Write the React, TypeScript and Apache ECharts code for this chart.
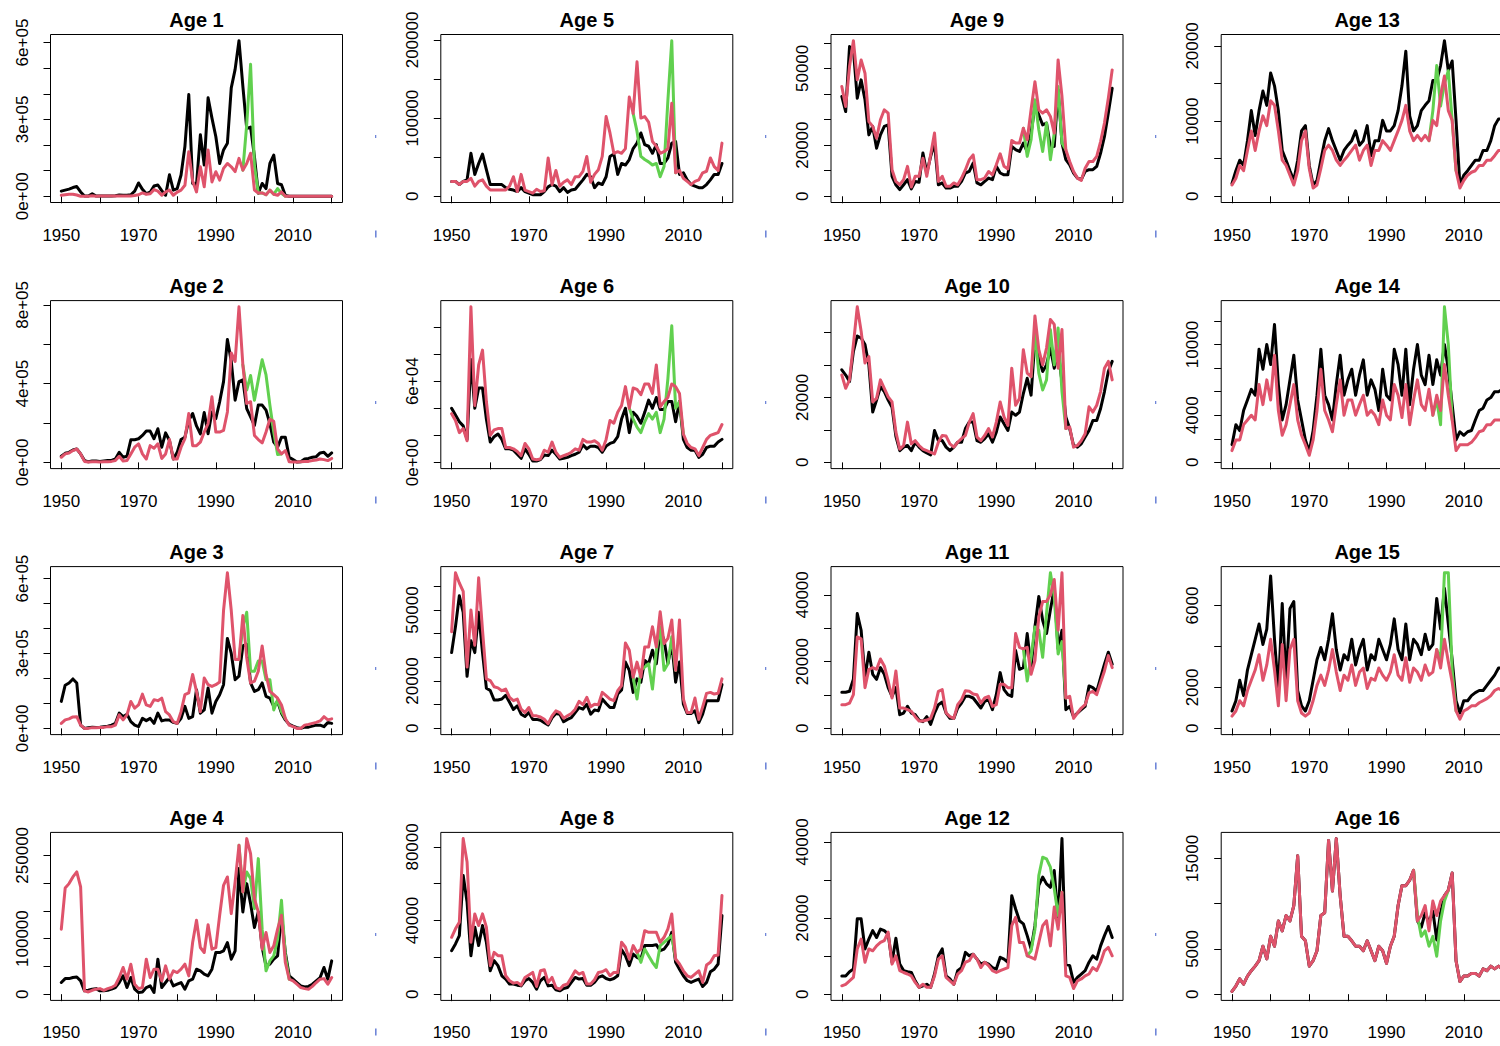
import React, { useEffect, useRef } from "react";
import * as echarts from "echarts";

// ---------- categories ----------
const FIRST_YEAR = 1950;
const LAST_YEAR = 2020;
const years: number[] = [];
for (let y = FIRST_YEAR; y <= LAST_YEAR; y++) years.push(y);
const xTickYears = [1950, 1960, 1970, 1980, 1990, 2000, 2010, 2020];
const xLabelYears = [1950, 1970, 1990, 2010];

// ---------- series values (1950..2020) ----------
const age1Black = [
  20000, 24000, 28000, 34000, 38000, 17000, 1000, 1000, 10000, 1000,
  1000, 1000, 1000, 1000, 2000, 5000, 4000, 4000, 6000, 20000,
  52000, 27000, 10000, 16000, 40000, 44000, 22000, 4000, 84000, 24000,
  30000, 83000, 194000, 397000, 50000, 45000, 240000, 122000, 384000, 305000,
  233000, 128000, 181000, 207000, 423000, 495000, 607000, 430000, 265000, 270000,
  155000, 12000, 50000, 30000, 128000, 161000, 50000, 45000, 3000, 0,
  0, 0, 0, 0, 0, 0, 0, 0, 0, 0,
  0,
];
const age1Red = [
  4000, 6000, 8000, 8000, 5000, 0, 0, 0, 2000, 0,
  1000, 1000, 1000, 1000, 1000, 1000, 1000, 1000, 1000, 3000,
  6000, 13000, 8000, 10000, 26000, 20000, 4000, 17000, 24000, 4000,
  16000, 24000, 43000, 174000, 60000, 17000, 115000, 37000, 181000, 56000,
  96000, 63000, 109000, 128000, 115000, 96000, 148000, 102000, 128000, 168000,
  24000, 13000, 13000, 6000, 24000, 8000, 4000, 17000, 0, 0,
  0, 0, 0, 0, 0, 0, 0, 0, 0, 0,
  0,
];
const age1Green = [[1997, 102000], [1998, 280000], [1999, 515000], [2000, 120000], [2001, 13000], [2002, 13000], [2003, 6000], [2004, 24000], [2005, 8000], [2006, 30000], [2007, 12000], [2008, 0]];

const age2Black = [
  31000, 46000, 51000, 63000, 68000, 43000, 9000, 3000, 7000, 7000,
  5000, 7000, 9000, 10000, 17000, 51000, 26000, 31000, 115000, 115000,
  120000, 137000, 159000, 159000, 120000, 171000, 77000, 150000, 111000, 17000,
  51000, 116000, 128000, 214000, 248000, 185000, 145000, 253000, 145000, 256000,
  222000, 308000, 410000, 624000, 513000, 316000, 410000, 419000, 273000, 231000,
  188000, 291000, 291000, 265000, 197000, 103000, 77000, 128000, 128000, 26000,
  14000, 2000, 3000, 17000, 20000, 26000, 29000, 48000, 51000, 31000,
  48000,
];
const age2Red = [
  26000, 43000, 48000, 60000, 68000, 43000, 5000, 2000, 3000, 3000,
  2000, 3000, 3000, 5000, 9000, 31000, 7000, 9000, 43000, 77000,
  94000, 43000, 17000, 85000, 72000, 94000, 20000, 43000, 116000, 17000,
  17000, 77000, 120000, 248000, 85000, 85000, 103000, 154000, 197000, 333000,
  154000, 154000, 162000, 256000, 556000, 513000, 790000, 496000, 299000, 308000,
  137000, 116000, 99000, 154000, 219000, 208000, 68000, 43000, 60000, 3000,
  2000, 2000, 3000, 4000, 5000, 9000, 12000, 17000, 14000, 9000,
  20000,
];
const age2Green = [[1997, 496000], [1998, 367000], [1999, 441000], [2000, 316000], [2001, 419000], [2002, 521000], [2003, 444000], [2004, 291000], [2005, 154000], [2006, 40000], [2007, 43000]];

const age3Black = [
  108000, 173000, 182000, 198000, 182000, 13000, 0, 3000, 5000, 4000,
  5000, 7000, 9000, 13000, 20000, 61000, 47000, 57000, 27000, 13000,
  7000, 40000, 31000, 40000, 20000, 61000, 30000, 34000, 34000, 24000,
  20000, 40000, 88000, 40000, 47000, 155000, 61000, 74000, 162000, 61000,
  108000, 135000, 175000, 360000, 300000, 195000, 209000, 330000, 337000, 182000,
  148000, 155000, 182000, 128000, 121000, 88000, 108000, 61000, 34000, 16000,
  9000, 3000, 0, 5000, 5000, 9000, 13000, 13000, 7000, 24000,
  20000,
];
const age3Red = [
  20000, 34000, 38000, 46000, 47000, 13000, 0, 0, 3000, 3000,
  4000, 4000, 7000, 7000, 13000, 54000, 34000, 54000, 108000, 81000,
  94000, 137000, 94000, 88000, 115000, 111000, 121000, 67000, 54000, 27000,
  20000, 67000, 135000, 142000, 216000, 148000, 67000, 202000, 175000, 168000,
  175000, 186000, 472000, 623000, 472000, 276000, 276000, 452000, 283000, 182000,
  189000, 229000, 330000, 216000, 148000, 135000, 121000, 94000, 40000, 13000,
  7000, 0, 0, 13000, 16000, 20000, 24000, 30000, 47000, 34000,
  38000,
];
const age3Green = [[1996, 276000], [1997, 404000], [1998, 465000], [1999, 229000], [2000, 229000], [2001, 270000], [2002, 270000], [2003, 195000], [2004, 195000], [2005, 74000], [2006, 115000], [2007, 67000], [2008, 40000]];

const age4Black = [
  21000, 28000, 28000, 30000, 31000, 24000, 6000, 7000, 9000, 10000,
  6000, 6000, 7000, 9000, 12000, 21000, 33000, 12000, 30000, 9000,
  3000, 4000, 12000, 15000, 3000, 63000, 12000, 21000, 30000, 15000,
  18000, 21000, 9000, 24000, 27000, 45000, 42000, 36000, 33000, 45000,
  75000, 75000, 78000, 93000, 63000, 78000, 226000, 148000, 199000, 163000,
  120000, 148000, 84000, 51000, 54000, 63000, 69000, 145000, 75000, 33000,
  27000, 21000, 15000, 13000, 14000, 18000, 24000, 30000, 48000, 27000,
  60000,
];
const age4Red = [
  117000, 191000, 199000, 211000, 220000, 193000, 6000, 4000, 7000, 9000,
  10000, 7000, 10000, 12000, 16000, 30000, 48000, 27000, 54000, 18000,
  10000, 12000, 63000, 30000, 45000, 45000, 24000, 51000, 27000, 42000,
  39000, 45000, 54000, 33000, 93000, 133000, 84000, 75000, 125000, 81000,
  84000, 142000, 196000, 211000, 145000, 202000, 268000, 184000, 280000, 253000,
  172000, 148000, 81000, 111000, 75000, 87000, 117000, 142000, 57000, 27000,
  24000, 18000, 12000, 10000, 9000, 14000, 21000, 27000, 28000, 18000,
  30000,
];
const age4Green = [[1996, 268000], [1997, 184000], [1998, 220000], [1999, 208000], [2000, 154000], [2001, 244000], [2002, 117000], [2003, 42000], [2004, 60000], [2005, 69000], [2006, 99000], [2007, 169000], [2008, 69000], [2009, 27000]];

const age5Black = [
  19000, 19000, 15000, 19000, 21000, 55000, 28000, 42000, 54000, 34000,
  15000, 15000, 15000, 15000, 11000, 9000, 8000, 6000, 11000, 6000,
  4000, 2000, 2000, 2000, 6000, 12000, 15000, 13000, 6000, 11000,
  5000, 8000, 9000, 15000, 21000, 28000, 25000, 11000, 17000, 15000,
  25000, 51000, 54000, 28000, 42000, 40000, 47000, 61000, 68000, 81000,
  66000, 64000, 55000, 66000, 42000, 42000, 49000, 68000, 70000, 28000,
  30000, 21000, 15000, 13000, 11000, 11000, 15000, 21000, 28000, 28000,
  42000,
];
const age5Red = [
  19000, 19000, 15000, 19000, 19000, 23000, 13000, 19000, 21000, 13000,
  8000, 8000, 8000, 8000, 8000, 13000, 25000, 6000, 28000, 8000,
  6000, 4000, 9000, 6000, 7000, 49000, 15000, 33000, 13000, 18000,
  21000, 15000, 25000, 25000, 32000, 51000, 18000, 28000, 34000, 51000,
  102000, 81000, 55000, 57000, 55000, 61000, 127000, 106000, 172000, 100000,
  102000, 95000, 70000, 64000, 55000, 57000, 61000, 119000, 30000, 33000,
  23000, 19000, 15000, 19000, 21000, 30000, 32000, 49000, 38000, 33000,
  68000,
];
const age5Green = [[1997, 106000], [1998, 83000], [1999, 51000], [2000, 47000], [2001, 44000], [2002, 40000], [2003, 42000], [2004, 25000], [2005, 38000], [2006, 123000], [2007, 199000], [2008, 30000]];

const age6Black = [
  40000, 35000, 30000, 27000, 17000, 76000, 40000, 55000, 55000, 32000,
  15000, 19000, 21000, 17000, 10000, 10000, 9000, 6000, 3000, 10000,
  6000, 1000, 1000, 2000, 5500, 5000, 9000, 6000, 2500, 3000,
  3700, 5000, 6000, 7500, 13000, 10000, 12000, 12000, 11000, 7500,
  12000, 14000, 15000, 19000, 32000, 40000, 22000, 37000, 34000, 29000,
  37000, 46000, 40000, 48000, 39000, 39000, 45000, 45000, 30000, 45000,
  17000, 11000, 9000, 9000, 3700, 6000, 11000, 12000, 12000, 15000,
  17000,
];
const age6Red = [
  36000, 31000, 22000, 25000, 16000, 115000, 42000, 72000, 83000, 45000,
  20000, 24000, 25000, 25000, 11000, 11000, 10000, 8000, 5000, 14000,
  10000, 2500, 2000, 2500, 9000, 7500, 15000, 7500, 3700, 5000,
  6000, 7500, 10000, 9000, 17000, 15000, 15000, 16000, 14000, 9000,
  17000, 31000, 29000, 37000, 42000, 56000, 40000, 55000, 54000, 50000,
  58000, 58000, 51000, 72000, 41000, 45000, 48000, 58000, 56000, 51000,
  21000, 14000, 11000, 10000, 5000, 11000, 17000, 20000, 21000, 22000,
  28000,
];
const age6Green = [[1996, 40000], [1997, 32000], [1998, 26000], [1999, 22000], [2000, 30000], [2001, 36000], [2002, 32000], [2003, 37000], [2004, 22000], [2005, 32000], [2006, 62000], [2007, 101000], [2008, 40000], [2009, 45000], [2010, 21000]];

const age7Black = [
  32000, 43000, 56000, 49000, 22000, 37000, 32000, 49000, 32000, 17000,
  16000, 12000, 12000, 12400, 14000, 11000, 8000, 9500, 6000, 5000,
  6700, 3800, 3800, 3400, 2400, 1400, 4500, 6300, 6000, 2800,
  3800, 4500, 6700, 8800, 8100, 10200, 6000, 7800, 7400, 12400,
  10500, 8800, 8800, 14500, 16200, 28000, 24500, 15200, 20900, 19500,
  28700, 27300, 33000, 27300, 41500, 37300, 27300, 35800, 19500, 28000,
  10200, 6300, 6300, 7400, 2400, 6000, 11700, 11700, 11700, 11700,
  18500,
];
const age7Red = [
  40800, 65700, 61400, 57900, 25900, 50000, 35100, 63600, 41500, 20900,
  20200, 17600, 17100, 15900, 16600, 13100, 11700, 12400, 8100, 6700,
  8800, 5300, 5300, 4800, 3800, 2000, 5300, 7400, 6700, 4300,
  5300, 6300, 8100, 11400, 10000, 13100, 9100, 10200, 10000, 15200,
  13800, 12400, 11700, 15900, 18100, 36100, 33000, 21600, 28000, 21600,
  34400, 34400, 42900, 34400, 49300, 35800, 38000, 45800, 24500, 45800,
  12400, 6700, 6700, 12800, 3800, 9100, 14800, 15200, 14500, 14800,
  20900,
];
const age7Green = [[1997, 21600], [1998, 12400], [1999, 24500], [2000, 25900], [2001, 27300], [2002, 16600], [2003, 33000], [2004, 42900], [2005, 24500], [2006, 27300], [2007, 38700], [2008, 24500]];

const age8Black = [
  23600, 27300, 31800, 64500, 50000, 20900, 36400, 26400, 37300, 28200,
  12700, 18200, 15500, 10000, 8200, 5500, 5500, 4900, 4500, 7300,
  8500, 6400, 2700, 7300, 9100, 4500, 4900, 2400, 1800, 3100,
  3600, 6400, 9100, 8200, 8500, 4900, 4900, 6400, 9100, 10000,
  8500, 7800, 8500, 10000, 24200, 20900, 15500, 21800, 20000, 19100,
  26400, 26400, 26400, 26900, 23600, 24500, 27300, 33600, 17300, 13600,
  10000, 7300, 6400, 7300, 8200, 4200, 6400, 12200, 13600, 16400,
  42700,
];
const age8Red = [
  30900, 35500, 39100, 84500, 71800, 28200, 43600, 37300, 43600, 36400,
  15500, 22700, 20900, 20900, 10000, 7300, 6000, 6400, 4900, 9100,
  10400, 11800, 4200, 12700, 13300, 6400, 9100, 3600, 2700, 4900,
  5500, 9100, 12700, 10900, 11800, 5500, 5500, 7800, 11800, 12200,
  13300, 10000, 11800, 11800, 28200, 25500, 19100, 26400, 22700, 24500,
  34500, 33600, 33600, 33600, 28200, 30900, 35500, 43600, 19100, 16400,
  12700, 10000, 9100, 10900, 12700, 6400, 15800, 17300, 20900, 21300,
  53600,
];
const age8Green = [[1998, 22700], [1999, 17300], [2000, 24500], [2001, 20900], [2002, 17300], [2003, 14500], [2004, 26400], [2005, 28200], [2006, 30000], [2007, 31800], [2008, 19100]];

const age9Black = [
  39000, 33100, 58500, 57200, 38300, 45500, 37700, 24000, 27300, 18800,
  24000, 27300, 27900, 7800, 4500, 2600, 4500, 6500, 2900, 5800,
  5500, 16900, 9100, 15600, 20800, 4500, 5200, 3200, 3200, 3900,
  3900, 5800, 9100, 9700, 13000, 5200, 4500, 5800, 7100, 6500,
  11700, 9100, 8400, 8400, 19500, 18200, 17500, 20800, 17500, 24700,
  35300, 31800, 27900, 28600, 19500, 19500, 41600, 20800, 14300, 12300,
  9100, 7100, 6500, 9700, 10400, 10400, 11700, 16900, 23400, 32500,
  42200,
];
const age9Red = [
  42900, 35100, 50700, 60800, 45500, 53300, 48100, 29200, 27300, 22700,
  29900, 33800, 32500, 10400, 5800, 4500, 6500, 11700, 3600, 7800,
  7800, 14900, 7800, 16200, 24700, 5800, 7800, 3900, 3900, 5200,
  4500, 7100, 10400, 14300, 16200, 6500, 6500, 7100, 9700, 8400,
  12300, 16600, 11700, 10700, 21800, 20800, 20800, 26600, 22100, 33800,
  44800, 33800, 32500, 33800, 31200, 24700, 53300, 39000, 18200, 13600,
  9700, 7100, 6200, 11000, 13600, 13600, 15600, 21400, 28600, 38300,
  49400,
];
const age9Green = [[1997, 26600], [1998, 15600], [1999, 22100], [2000, 37700], [2001, 26000], [2002, 17500], [2003, 28600], [2004, 14300], [2005, 24700], [2006, 42900], [2007, 20800], [2008, 18200]];

const age10Black = [
  28500, 26900, 24900, 34200, 38900, 38300, 36300, 30000, 15500, 19200,
  23300, 21800, 19200, 17000, 8000, 3600, 4700, 5200, 3600, 6200,
  4700, 3600, 2900, 2300, 9800, 6700, 6700, 4700, 3600, 4700,
  6200, 6200, 10400, 12400, 12400, 6700, 6200, 7300, 8800, 6200,
  9300, 14000, 11900, 9800, 15500, 14500, 15500, 21200, 25900, 20700,
  37800, 32100, 28000, 30000, 35200, 29000, 34200, 24900, 14000, 10400,
  5200, 4700, 5700, 7800, 9800, 12900, 12900, 16600, 21800, 28000,
  31100,
];
const age10Red = [
  26900, 22800, 25400, 36300, 47900, 40400, 30600, 32600, 18600, 19700,
  25400, 22800, 20200, 18600, 9300, 4100, 5200, 12400, 5700, 6700,
  5200, 4100, 3600, 3100, 2600, 6200, 8300, 8100, 5700, 4700,
  6200, 7300, 8300, 12400, 15000, 7800, 6700, 8300, 10400, 7800,
  12400, 18600, 14000, 11400, 29000, 17600, 19700, 34700, 27500, 26400,
  45100, 34700, 30000, 35200, 44000, 42500, 29000, 40900, 10400, 10900,
  4700, 5200, 6700, 8800, 17100, 15500, 17600, 21800, 29000, 31100,
  25400,
];
const age10Green = [[1999, 26400], [2000, 39900], [2001, 27500], [2002, 22300], [2003, 25400], [2004, 40900], [2005, 30000], [2006, 41400], [2007, 21800], [2008, 10400]];

const age11Black = [
  10800, 10800, 11100, 14700, 34400, 29400, 15200, 22800, 16200, 14700,
  18200, 16200, 12200, 9600, 12200, 4100, 4600, 6600, 4600, 4100,
  2500, 2000, 3500, 1200, 4600, 7100, 7900, 4600, 3000, 3000,
  6100, 7600, 9600, 9600, 9100, 7600, 6100, 8100, 8600, 5600,
  10100, 16700, 11600, 10100, 9600, 23300, 17700, 18200, 28400, 18200,
  30400, 39500, 32400, 28400, 35500, 42000, 23800, 29400, 5600, 6600,
  3500, 4600, 5600, 6600, 12700, 12200, 11100, 15200, 19200, 22800,
  19200,
];
const age11Red = [
  7100, 7100, 7600, 10100, 27400, 26800, 12200, 17700, 18200, 17700,
  20800, 18700, 14200, 9100, 17200, 6100, 6100, 5600, 5100, 3500,
  2200, 2200, 2500, 3000, 6100, 11100, 11600, 4600, 3500, 3000,
  7100, 8600, 11300, 11100, 10300, 10100, 7600, 9100, 9600, 6600,
  7100, 13200, 13200, 12200, 12200, 28400, 24300, 23800, 24300, 16200,
  20300, 33400, 38000, 38000, 40000, 44600, 29400, 46600, 9100, 9600,
  3000, 4600, 6100, 7100, 10600, 11100, 10100, 13700, 17200, 21800,
  18200,
];
const age11Green = [[1997, 23800], [1998, 14200], [1999, 21300], [2000, 30400], [2001, 29400], [2002, 21300], [2003, 34400], [2004, 46600], [2005, 39500], [2006, 22300], [2007, 26000], [2008, 9100]];

const age12Black = [
  4800, 4800, 5900, 6600, 19800, 19800, 11900, 14500, 16700, 14900,
  17100, 16700, 15800, 8400, 14700, 7900, 6200, 5900, 5700, 3500,
  1800, 2200, 2600, 1800, 5300, 10100, 11900, 4800, 4000, 2600,
  6200, 7000, 11000, 10100, 10500, 9200, 7900, 8400, 7900, 7000,
  6600, 9700, 9200, 8400, 25900, 22400, 19300, 18500, 15400, 11900,
  18000, 28600, 30800, 29000, 28100, 32500, 19300, 40900, 7900, 7500,
  3100, 4400, 5300, 6200, 8400, 10100, 9200, 12700, 15400, 17800,
  14900,
];
const age12Red = [
  2200, 2600, 3500, 4400, 11900, 14500, 8400, 11900, 11400, 12700,
  13600, 14100, 16300, 7900, 10100, 6200, 5700, 5300, 4800, 3100,
  1800, 2600, 1800, 1800, 4800, 9200, 10100, 4400, 3500, 2600,
  5300, 6200, 8400, 8800, 10500, 9200, 7000, 8400, 7500, 6200,
  5700, 6200, 6600, 7000, 18000, 20200, 13600, 13600, 10100, 9700,
  9200, 13600, 18000, 19300, 12700, 22900, 17100, 26800, 4800, 4400,
  1500, 3500, 4000, 4800, 5300, 7000, 6200, 8400, 11400, 12300,
  10100,
];
const age12Green = [[1998, 10100], [1999, 11400], [2000, 17100], [2001, 31200], [2002, 36000], [2003, 35600], [2004, 33400], [2005, 27700], [2006, 20700], [2007, 26800]];

const age13Black = [
  1700, 3400, 4800, 4100, 7400, 11400, 8100, 11400, 14000, 12100,
  16400, 14700, 11400, 6100, 4800, 3400, 2100, 4800, 8700, 9400,
  4100, 1500, 2100, 4800, 7400, 9000, 7400, 6100, 4800, 6100,
  6800, 7400, 8700, 6800, 7400, 9400, 5400, 7400, 7400, 10100,
  8700, 8700, 9400, 11400, 14700, 19300, 10700, 8700, 9400, 11400,
  12100, 12700, 15400, 15400, 17400, 20700, 16700, 18000, 10100, 1500,
  2800, 3400, 4100, 4800, 4800, 6100, 6100, 7400, 9400, 10300,
  10300,
];
const age13Red = [
  1500, 2400, 4100, 3400, 6100, 8700, 6100, 8700, 10700, 9400,
  12700, 12100, 8700, 4800, 4100, 2800, 1500, 3400, 7400, 8700,
  3700, 1100, 1500, 3700, 6100, 6800, 6100, 4800, 4100, 4800,
  5400, 6100, 6800, 4800, 6100, 6800, 4100, 6100, 6100, 7400,
  6800, 6100, 7400, 8700, 10100, 12100, 8700, 7400, 8100, 7400,
  8100, 7400, 10100, 9400, 13400, 16000, 11400, 10100, 3400, 1100,
  2100, 2800, 3200, 3400, 4100, 4100, 4800, 4800, 5400, 6100,
  6100,
];
const age13Green = [[2001, 7400], [2002, 11400], [2003, 17400], [2004, 12000], [2005, 15000], [2006, 16700], [2007, 10100], [2008, 3400]];

const age14Black = [
  1500, 3200, 2700, 4400, 5300, 6200, 5700, 9600, 7900, 10000,
  8300, 11700, 6600, 3600, 4900, 7000, 9100, 5300, 3600, 1900,
  900, 2700, 5700, 9600, 5700, 4900, 3600, 6600, 9100, 5700,
  7000, 7900, 5700, 7400, 8700, 5700, 7000, 6200, 4400, 7900,
  5700, 5300, 9600, 8300, 5700, 9600, 4900, 7900, 10000, 7400,
  6600, 9100, 6600, 8700, 7400, 10000, 7900, 4900, 1900, 2600,
  2300, 2600, 2700, 3600, 4400, 4600, 5300, 5500, 6000, 6000,
  6200,
];
const age14Red = [
  1000, 1900, 1900, 3200, 3600, 4000, 3600, 6600, 4900, 7000,
  5300, 9100, 4400, 2300, 3200, 4900, 6600, 3600, 2300, 1500,
  600, 1900, 4400, 7900, 4400, 3600, 2600, 4900, 7000, 4000,
  5300, 5300, 4000, 4900, 5700, 4000, 4400, 4000, 3200, 5300,
  4000, 3600, 6600, 5700, 3800, 6600, 3200, 5300, 7000, 4900,
  4400, 6200, 4000, 5700, 4400, 8300, 5700, 3600, 1000, 1500,
  1500, 1500, 1700, 2100, 2600, 2700, 3200, 3200, 3600, 3600,
  3600,
];
const age14Green = [[2002, 4000], [2003, 5300], [2004, 3200], [2005, 13200], [2006, 10000], [2007, 3600]];

const age15Black = [
  850, 1350, 2350, 1600, 2850, 3600, 4350, 5100, 4100, 4850,
  7450, 4350, 1850, 6100, 2350, 5850, 6200, 1850, 1100, 850,
  1350, 2350, 3350, 3950, 3350, 4350, 5600, 3850, 2850, 3600,
  3350, 4350, 3100, 3850, 4350, 2850, 3600, 3350, 4350, 3850,
  3350, 4100, 5350, 3850, 3350, 5100, 3350, 4350, 4100, 3600,
  4600, 3850, 4100, 6350, 4850, 6850, 5100, 3350, 1350, 750,
  1350, 1350, 1600, 1750, 1850, 1850, 2100, 2350, 2600, 2950,
  2950,
];
const age15Red = [
  600, 850, 1350, 1100, 1850, 2350, 2850, 3600, 2350, 3100,
  4350, 2850, 1100, 4100, 1350, 3850, 4350, 1350, 750, 600,
  750, 1350, 2100, 2600, 2100, 2850, 3850, 2750, 1850, 2600,
  2350, 3100, 2100, 2750, 2950, 1950, 2450, 2350, 2950, 2600,
  2350, 2750, 3600, 2600, 2350, 3450, 2250, 2950, 2750, 2350,
  3100, 2600, 2750, 3850, 2950, 4350, 3250, 2250, 850, 450,
  850, 950, 1100, 1100, 1250, 1350, 1450, 1600, 1850, 1950,
  1850,
];
const age15Green = [[2003, 3850], [2004, 3350], [2005, 7600], [2006, 7600], [2007, 2850], [2008, 850]];

const age16Black = [
  300, 900, 1700, 1100, 2000, 2600, 3100, 3700, 5300, 3900,
  6400, 5300, 8100, 7000, 8700, 8100, 9800, 15300, 6400, 5900,
  3100, 3700, 4800, 8700, 9000, 17000, 11400, 17200, 10900, 6400,
  6400, 5900, 5300, 5300, 4800, 5900, 4800, 3700, 5300, 4800,
  3400, 5300, 6400, 9800, 12000, 12000, 12600, 13700, 8100, 7400,
  9000, 7900, 9200, 6000, 9000, 10900, 11500, 13400, 3700, 1400,
  2000, 2000, 2300, 2300, 2000, 2800, 2600, 3100, 2800, 3100,
  2800,
];
const age16Red = [
  300, 900, 1700, 1100, 2000, 2600, 3100, 3700, 5300, 3900,
  6400, 5300, 8100, 7000, 8700, 8100, 9800, 15300, 6400, 5900,
  3100, 3700, 4800, 8700, 9000, 17000, 11400, 17200, 10900, 6400,
  6400, 5900, 5300, 5300, 4800, 5900, 4800, 3700, 5300, 4800,
  3400, 5300, 6400, 9800, 12000, 12000, 12600, 13700, 8100, 8700,
  9800, 7000, 10300, 8700, 10300, 10900, 11500, 13400, 3700, 1400,
  2000, 2000, 2300, 2300, 2000, 2800, 2600, 3100, 2800, 3100,
  2800,
];
const age16Green = [[1997, 13700], [1998, 8700], [1999, 6400], [2000, 7000], [2001, 5300], [2002, 6400], [2003, 4200], [2004, 8100], [2005, 10300], [2006, 11500]];

// ---------- y tick values and labelled ticks ----------
const age1Ticks = [0, 100000, 200000, 300000, 400000, 500000, 600000];
const age1Labels = [0, 300000, 600000];
const age2Ticks = [0, 200000, 400000, 600000, 800000];
const age2Labels = [0, 400000, 800000];
const age3Ticks = [0, 100000, 200000, 300000, 400000, 500000, 600000];
const age3Labels = [0, 300000, 600000];
const age4Ticks = [0, 50000, 100000, 150000, 200000, 250000];
const age4Labels = [0, 100000, 250000];
const age5Ticks = [0, 50000, 100000, 150000, 200000];
const age5Labels = [0, 100000, 200000];
const age6Ticks = [0, 20000, 40000, 60000, 80000, 100000];
const age6Labels = [0, 60000];
const age7Ticks = [0, 10000, 20000, 30000, 40000, 50000, 60000];
const age7Labels = [0, 20000, 50000];
const age8Ticks = [0, 20000, 40000, 60000, 80000];
const age8Labels = [0, 40000, 80000];
const age9Ticks = [0, 10000, 20000, 30000, 40000, 50000, 60000];
const age9Labels = [0, 20000, 50000];
const age10Ticks = [0, 10000, 20000, 30000, 40000];
const age10Labels = [0, 20000];
const age11Ticks = [0, 10000, 20000, 30000, 40000];
const age11Labels = [0, 20000, 40000];
const age12Ticks = [0, 10000, 20000, 30000, 40000];
const age12Labels = [0, 20000, 40000];
const age13Ticks = [0, 5000, 10000, 15000, 20000];
const age13Labels = [0, 10000, 20000];
const age14Ticks = [0, 2000, 4000, 6000, 8000, 10000, 12000];
const age14Labels = [0, 4000, 10000];
const age15Ticks = [0, 2000, 4000, 6000];
const age15Labels = [0, 2000, 6000];
const age16Ticks = [0, 5000, 10000, 15000];
const age16Labels = [0, 5000, 15000];

type Panel = {
  title: string;
  black: number[];
  red: number[];
  green: number[][];
  ticks: number[];
  labels: number[];
  sci: boolean;
};

const panels: Panel[] = [
  { title: "Age 1", black: age1Black, red: age1Red, green: age1Green, ticks: age1Ticks, labels: age1Labels, sci: true },
  { title: "Age 2", black: age2Black, red: age2Red, green: age2Green, ticks: age2Ticks, labels: age2Labels, sci: true },
  { title: "Age 3", black: age3Black, red: age3Red, green: age3Green, ticks: age3Ticks, labels: age3Labels, sci: true },
  { title: "Age 4", black: age4Black, red: age4Red, green: age4Green, ticks: age4Ticks, labels: age4Labels, sci: false },
  { title: "Age 5", black: age5Black, red: age5Red, green: age5Green, ticks: age5Ticks, labels: age5Labels, sci: false },
  { title: "Age 6", black: age6Black, red: age6Red, green: age6Green, ticks: age6Ticks, labels: age6Labels, sci: true },
  { title: "Age 7", black: age7Black, red: age7Red, green: age7Green, ticks: age7Ticks, labels: age7Labels, sci: false },
  { title: "Age 8", black: age8Black, red: age8Red, green: age8Green, ticks: age8Ticks, labels: age8Labels, sci: false },
  { title: "Age 9", black: age9Black, red: age9Red, green: age9Green, ticks: age9Ticks, labels: age9Labels, sci: false },
  { title: "Age 10", black: age10Black, red: age10Red, green: age10Green, ticks: age10Ticks, labels: age10Labels, sci: false },
  { title: "Age 11", black: age11Black, red: age11Red, green: age11Green, ticks: age11Ticks, labels: age11Labels, sci: false },
  { title: "Age 12", black: age12Black, red: age12Red, green: age12Green, ticks: age12Ticks, labels: age12Labels, sci: false },
  { title: "Age 13", black: age13Black, red: age13Red, green: age13Green, ticks: age13Ticks, labels: age13Labels, sci: false },
  { title: "Age 14", black: age14Black, red: age14Red, green: age14Green, ticks: age14Ticks, labels: age14Labels, sci: false },
  { title: "Age 15", black: age15Black, red: age15Red, green: age15Green, ticks: age15Ticks, labels: age15Labels, sci: false },
  { title: "Age 16", black: age16Black, red: age16Red, green: age16Green, ticks: age16Ticks, labels: age16Labels, sci: false },
];

// ---------- layout & style ----------
const COL_LEFT = [50.5, 440.8, 831, 1221.2];
const ROW_TOP = [34.5, 300.6, 566.6, 832.4];
const BOX_W = 292;
const BOX_H = 168;
const FONT = "'Liberation Sans', Arial, Helvetica, sans-serif";
const BLACK = "#000000";
const GREEN = "#61D04F";
const RED = "#DF536B";
const X_PAD = (LAST_YEAR - FIRST_YEAR) * 0.04;

function sciLabel(v: number): string {
  if (v === 0) return "0e+00";
  const s = v.toExponential(0);
  const [m, e] = s.split("e");
  const sign = e[0] === "-" ? "-" : "+";
  const digits = e.replace(/[+-]/, "");
  return m + "e" + sign + (digits.length < 2 ? "0" + digits : digits);
}

function buildOption() {
  const grid: any[] = [];
  const xAxis: any[] = [];
  const yAxis: any[] = [];
  const series: any[] = [];
  const graphic: any[] = [];

  panels.forEach((p, i) => {
    const col = Math.floor(i / 4);
    const row = i % 4;
    const left = COL_LEFT[col];
    const top = ROW_TOP[row];
    const all = [...p.black, ...p.red, ...p.green.map((d) => d[1])];
    // y range runs from 0 to the data maximum, widened by 4% on both sides
    const lo = 0;
    const hi = Math.max(...all);
    const pad = (hi - lo) * 0.04;

    grid.push({
      left,
      top,
      width: BOX_W,
      height: BOX_H,
      show: true,
      borderColor: "#000",
      borderWidth: 1,
      backgroundColor: "transparent",
      containLabel: false,
    });

    xAxis.push({
      type: "value",
      gridIndex: i,
      min: FIRST_YEAR - X_PAD,
      max: LAST_YEAR + X_PAD,
      splitLine: { show: false },
      axisLine: { show: false },
      axisTick: {
        show: true,
        customValues: xTickYears,
        length: 7,
        lineStyle: { color: "#000", width: 1 },
      },
      axisLabel: {
        show: true,
        customValues: xLabelYears,
        margin: 24,
        fontSize: 17,
        fontFamily: FONT,
        color: "#000",
        formatter: (v: number) => String(Math.round(v)),
      },
    });

    yAxis.push({
      type: "value",
      gridIndex: i,
      min: lo - pad,
      max: hi + pad,
      splitLine: { show: false },
      axisLine: { show: false },
      axisTick: {
        show: true,
        customValues: p.ticks,
        length: 7,
        lineStyle: { color: "#000", width: 1 },
      },
      axisLabel: {
        show: true,
        customValues: p.labels,
        rotate: 90,
        margin: 20,
        fontSize: 17,
        fontFamily: FONT,
        color: "#000",
        formatter: (v: number) => (p.sci ? sciLabel(v) : String(Math.round(v))),
      },
    });

    const lineStyle = (color: string) => ({ color, width: 3, cap: "round", join: "round" });
    series.push({
      type: "line",
      xAxisIndex: i,
      yAxisIndex: i,
      data: p.black.map((v, k) => [years[k], v]),
      showSymbol: false,
      symbol: "none",
      lineStyle: lineStyle(BLACK),
      itemStyle: { color: BLACK },
      silent: true,
      z: 2,
    });
    series.push({
      type: "line",
      xAxisIndex: i,
      yAxisIndex: i,
      data: p.green,
      showSymbol: false,
      symbol: "none",
      lineStyle: lineStyle(GREEN),
      itemStyle: { color: GREEN },
      silent: true,
      z: 3,
    });
    series.push({
      type: "line",
      xAxisIndex: i,
      yAxisIndex: i,
      data: p.red.map((v, k) => [years[k], v]),
      showSymbol: false,
      symbol: "none",
      lineStyle: lineStyle(RED),
      itemStyle: { color: RED },
      silent: true,
      z: 4,
    });

    graphic.push({
      type: "text",
      x: left + BOX_W / 2,
      y: top - 14.5,
      silent: true,
      style: {
        text: p.title,
        fill: "#000",
        fontSize: 20,
        fontWeight: "bold",
        fontFamily: FONT,
        align: "center",
        verticalAlign: "middle",
        textAlign: "center",
        textVerticalAlign: "middle",
      },
    });
  });

  // small blue marks at the left edge of columns 2-4
  [375, 765, 1155].forEach((x) => {
    ROW_TOP.forEach((t) => {
      graphic.push({ type: "rect", silent: true, shape: { x, y: t + 100.5, width: 1.3, height: 3 }, style: { fill: "#6f86d8" } });
      graphic.push({ type: "rect", silent: true, shape: { x, y: t + 196, width: 1.6, height: 7 }, style: { fill: "#6f86d8" } });
    });
  });

  return {
    animation: false,
    backgroundColor: "#ffffff",
    grid,
    xAxis,
    yAxis,
    series,
    graphic,
  };
}

export default function App() {
  const ref = useRef<HTMLDivElement>(null);
  useEffect(() => {
    if (!ref.current) return;
    const chart = echarts.init(ref.current, null, { renderer: "svg" });
    chart.setOption(buildOption() as any);
    return () => {
      chart.dispose();
    };
  }, []);
  return (
    <div
      style={{
        position: "fixed",
        left: 0,
        top: 0,
        width: 1500,
        height: 1046,
        overflow: "hidden",
        background: "#ffffff",
      }}
    >
      <div ref={ref} style={{ width: 1520, height: 1046 }} />
    </div>
  );
}
